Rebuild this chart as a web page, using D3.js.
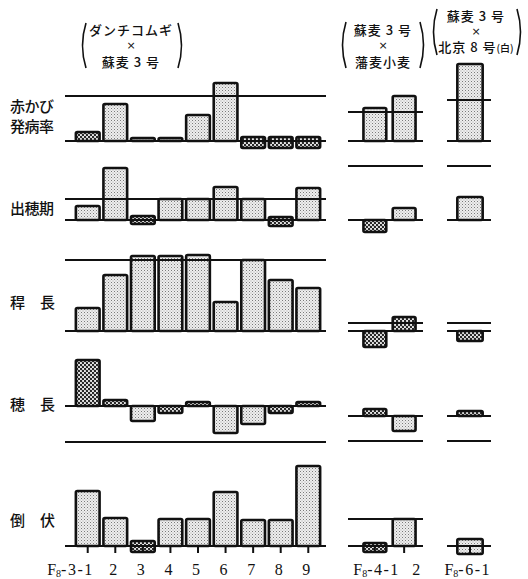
<!DOCTYPE html>
<html>
<head>
<meta charset="utf-8">
<script src="https://cdn.jsdelivr.net/npm/d3@7"></script>
<style>
  body { margin: 0; background: #fff; }
  text { fill: #111; }
</style>
</head>
<body>
<div id="chart"></div>
<script>
// categories (bar labels) for the three crosses
const catsA = ["F8-3-1", "2", "3", "4", "5", "6", "7", "8", "9"];
const catsB = ["F8-4-1", "2"];
const catsC = ["F8-6-1"];

const rowLabels = [["赤かび", "発病率"], ["出穂期"], ["稈　長"], ["穂　長"], ["倒　伏"]];

// bars as [low, high] relative to the row baseline (arbitrary units)
const scabA = [[0, 9], [0, 37], [0, 3], [0, 3], [0, 26], [0, 58], [-7, 4], [-7, 4], [-7, 4]];
const scabB = [[0, 33], [0, 45]];
const scabC = [[0, 77]];
const scabRef = [45, 29, 41];

const headA = [[0, 14], [0, 52], [-4, 4], [0, 21], [0, 21], [0, 33], [0, 21], [-6, 3], [0, 32]];
const headB = [[-12, 0], [0, 12]];
const headC = [[0, 23]];
const headRef = [21, 54, 54];

const culmA = [[0, 23], [0, 56], [0, 75], [0, 75], [0, 76], [0, 29], [0, 71], [0, 51], [0, 43]];
const culmB = [[-16, 0], [0, 14]];
const culmC = [[-10, 0]];
const culmRef = [71, 8, 8];

const earA = [[0, 46], [0, 6], [-15, 0], [-7, 0], [0, 4], [-27, 0], [-18, 0], [-7, 0], [0, 4]];
const earB = [[0, 7], [-15, 0]];
const earC = [[0, 5]];
const earRef = [-36, -25, -25];

const lodgA = [[0, 55], [0, 28], [-6, 5], [0, 27], [0, 27], [0, 54], [0, 26], [0, 26], [0, 80]];
const lodgB = [[-6, 3], [0, 27]];
const lodgC = [[-8, 7]];
const lodgRef = [null, 27, null];

const rowsA = [scabA, headA, culmA, earA, lodgA];
const rowsB = [scabB, headB, culmB, earB, lodgB];
const rowsC = [scabC, headC, culmC, earC, lodgC];
const refs = [scabRef, headRef, culmRef, earRef, lodgRef];

// layout
const W = 528, H = 579;
const rowBase = [141, 220, 331, 406, 546];
const panels = [
  { cats: catsA, rows: rowsA, range: [72, 324], pad: 0.14, line: [65, 326], baseShift: [0, 0, 0, 0, 0] },
  { cats: catsB, rows: rowsB, range: [357, 422], pad: 0.22, line: [348, 423], baseShift: [0, 0, 0, 10, 0] },
  { cats: catsC, rows: rowsC, range: [456, 484], pad: 0.05, line: [447, 491], baseShift: [0, 0, 0, 10, 0] }
];
// dark (dense dotted) bars: "row-panel-index"
const darkBars = new Set(["0-0-0", "0-0-6", "0-0-7", "0-0-8", "1-0-2", "1-0-7", "1-1-0",
  "2-1-0", "2-1-1", "2-2-0", "3-0-0", "3-0-1", "3-0-3", "3-0-4", "3-0-7", "3-0-8",
  "3-1-0", "3-2-0", "4-0-2", "4-1-0"]);

const svg = d3.select("#chart").append("svg")
  .attr("width", W).attr("height", H)
  .style("background", "#fff");

const defs = svg.append("defs");
const light = defs.append("pattern").attr("id", "light")
  .attr("width", 3).attr("height", 3).attr("patternUnits", "userSpaceOnUse");
light.append("rect").attr("width", 3).attr("height", 3).attr("fill", "#eeeeee");
light.append("rect").attr("width", 1).attr("height", 1).attr("fill", "#7a7a7a");
light.append("rect").attr("x", 1.5).attr("y", 1.5).attr("width", 1).attr("height", 1).attr("fill", "#a8a8a8");
const dark = defs.append("pattern").attr("id", "dark")
  .attr("width", 4).attr("height", 4).attr("patternUnits", "userSpaceOnUse");
dark.append("rect").attr("width", 4).attr("height", 4).attr("fill", "#e8e8e8");
dark.append("circle").attr("cx", 1).attr("cy", 1).attr("r", 1.2).attr("fill", "#222");
dark.append("circle").attr("cx", 3).attr("cy", 3).attr("r", 1.2).attr("fill", "#222");

const cjk = "'Noto Sans CJK JP', sans-serif";
const serif = "'Liberation Serif', 'DejaVu Serif', serif";

panels.forEach((p, pi) => {
  const x = d3.scaleBand().domain(p.cats).range(p.range).padding(p.pad);
  p.x = x;
  p.rows.forEach((bars, ri) => {
    const base = rowBase[ri] + p.baseShift[ri];
    const y = d3.scaleLinear().domain([0, 100]).range([base, base - 100]);
    const g = svg.append("g");

    g.selectAll("rect").data(bars).join("rect")
      .attr("x", (d, i) => x(p.cats[i]))
      .attr("y", d => y(d[1]))
      .attr("width", x.bandwidth())
      .attr("height", d => Math.max(1, y(d[0]) - y(d[1])))
      .attr("rx", 1.5)
      .attr("fill", (d, i) => darkBars.has(`${ri}-${pi}-${i}`) ? "url(#dark)" : "url(#light)")
      .attr("stroke", "#111")
      .attr("stroke-width", 2.6);

    // baseline and parent reference line
    g.append("line")
      .attr("x1", p.line[0]).attr("x2", p.line[1])
      .attr("y1", y(0)).attr("y2", y(0))
      .attr("stroke", "#111").attr("stroke-width", 2);
    const ref = refs[ri][pi];
    if (ref !== null) {
      g.append("line")
        .attr("x1", p.line[0]).attr("x2", p.line[1])
        .attr("y1", y(ref)).attr("y2", y(ref))
        .attr("stroke", "#111").attr("stroke-width", 1.8);
    }

    // ticks under the bottom row
    if (ri === p.rows.length - 1) {
      g.selectAll(".tick").data(p.cats).join("line")
        .attr("x1", d => x(d) + x.bandwidth() / 2)
        .attr("x2", d => x(d) + x.bandwidth() / 2)
        .attr("y1", y(0)).attr("y2", y(0) + 7)
        .attr("stroke", "#111").attr("stroke-width", 2);
    }
  });

  // category labels
  p.cats.forEach((c, i) => {
    const cx = p.x(c) + p.x.bandwidth() / 2;
    const t = svg.append("text")
      .attr("y", 575)
      .attr("font-family", serif)
      .attr("font-size", 16);
    if (c.startsWith("F8")) {
      t.attr("x", pi === 1 ? cx + 25 : pi === 2 ? cx + 21 : cx + 6).attr("text-anchor", "end");
      t.append("tspan").text("F");
      t.append("tspan").attr("font-size", 10).attr("dy", 2).text("8");
      t.append("tspan").attr("dy", -2).attr("letter-spacing", 1.5).text(c.slice(2));
    } else {
      t.attr("x", pi === 1 ? cx + 12 : cx - 2).attr("text-anchor", "middle").text(c);
    }
  });
});

// row labels
const rowLabelY = [[106, 126], [208], [302], [404], [520]];
rowLabels.forEach((lines, ri) => {
  lines.forEach((s, li) => {
    svg.append("text")
      .attr("x", 10).attr("y", rowLabelY[ri][li] + 6)
      .attr("font-family", cjk).attr("font-size", 15).attr("font-weight", 500)
      .attr("letter-spacing", s.includes("　") ? 0 : -0.5)
      .text(s);
  });
});

// cross titles with big parentheses
function title(lines, cx, ys, left, right, top, bottom) {
  lines.forEach((s, i) => {
    const isX = s === "×";
    const t = svg.append("text")
      .attr("x", cx).attr("y", ys[i] + (isX ? 4 : 5))
      .attr("text-anchor", "middle")
      .attr("font-family", isX ? "'DejaVu Sans', sans-serif" : cjk)
      .attr("font-size", isX ? 11 : 13)
      .attr("font-weight", 500)
      .attr("letter-spacing", isX ? 0 : 1);
    const m = s.match(/^(.*)(\(白\))$/);
    if (m) {
      t.append("tspan").text(m[1]);
      t.append("tspan").attr("font-size", 10).attr("letter-spacing", 0).text(m[2]);
    } else {
      t.text(s);
    }
  });
  const mid = (top + bottom) / 2;
  svg.append("path")
    .attr("d", `M${left + 4},${top} Q${left - 3},${mid} ${left + 4},${bottom}`)
    .attr("fill", "none").attr("stroke", "#111").attr("stroke-width", 1.6);
  svg.append("path")
    .attr("d", `M${right - 4},${top} Q${right + 3},${mid} ${right - 4},${bottom}`)
    .attr("fill", "none").attr("stroke", "#111").attr("stroke-width", 1.6);
}
title(["ダンチコムギ", "×", "蘇麦 3 号"], 131, [30, 45, 62], 82, 182, 23, 68);
title(["蘇麦 3 号", "×", "藩麦小麦"], 383, [30, 45, 62], 342, 424, 22, 68);
title(["蘇麦 3 号", "×", "北京 8 号(白)"], 476, [16, 31, 47], 433, 521, 9, 55);
</script>
</body>
</html>
